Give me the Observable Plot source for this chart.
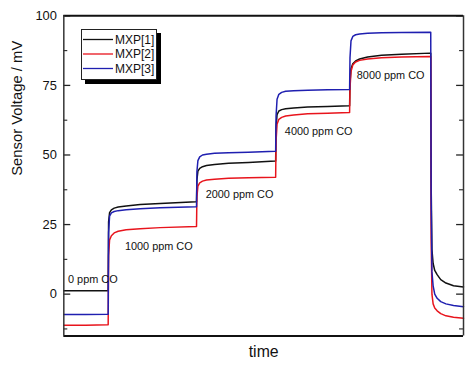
<!DOCTYPE html>
<html>
<head>
<meta charset="utf-8">
<script src="https://cdn.jsdelivr.net/npm/d3@7"></script>
<script src="https://cdn.jsdelivr.net/npm/@observablehq/plot@0.6"></script>
<style>
  html, body { margin: 0; padding: 0; background: #fff; overflow: hidden; }
  #wrap { position: relative; width: 465px; height: 367px; overflow: hidden; font-family: "Liberation Sans", Arial, sans-serif; }
  #legend { position: absolute; left: 81px; top: 29px; width: 74px; height: 49px; background: #fff; border: 1px solid #222; box-shadow: 4px 4px 0 #000; }
  #legend svg { position: absolute; left: 0; top: 0; }
</style>
</head>
<body>
<div id="wrap"><div id="chart"></div><div id="legend"></div></div>
<script>
// ---- data ----
const seriesNames = ["MXP[1]", "MXP[2]", "MXP[3]"];
const seriesColors = ["#111111", "#e8141c", "#1f1fb0"];

const time = [
  0, 5.5, 11.0,
  11.1, 11.2, 11.45, 11.9, 12.6, 13.6, 15.6, 19.1, 24.1, 33.1,
  33.2, 33.3, 33.55, 34.0, 34.7, 35.7, 37.7, 41.2, 46.2, 52.9,
  53.0, 53.1, 53.35, 53.8, 54.5, 55.5, 57.5, 61.0, 66.0, 71.4,
  71.5, 71.6, 71.85, 72.3, 73.0, 74.0, 76.0, 79.5, 84.5, 91.7,
  91.8, 91.9, 92.1, 92.4, 92.8, 93.4, 94.3, 95.6, 97.5, 100
];
const mxp1 = [
  1.2, 1.2, 1.2,
  1.2, 26, 29.3, 30.3, 30.9, 31.3, 31.7, 32.2, 32.6, 33.2,
  33.2, 41, 44.2, 45.2, 45.8, 46.2, 46.6, 47.0, 47.3, 47.8,
  47.8, 60, 64.5, 65.8, 66.3, 66.6, 66.9, 67.2, 67.4, 67.7,
  67.7, 76, 81, 82.8, 83.8, 84.5, 85.2, 85.8, 86.2, 86.6,
  86.6, 40, 16, 11, 8.5, 7, 5.2, 4, 3, 2.6
];
const mxp2 = [
  -11.2, -11.2, -11.0,
  -11.0, 14, 19.5, 21, 22, 22.6, 23.1, 23.5, 23.9, 24.3,
  24.3, 35, 38.8, 40, 40.6, 41, 41.3, 41.6, 41.8, 42.0,
  42.0, 55, 61, 62.8, 63.5, 64, 64.4, 64.8, 65.0, 65.3,
  65.3, 74, 80, 82.3, 83.4, 84, 84.5, 84.9, 85.2, 85.4,
  85.4, 20, 0, -3.5, -5, -6, -7, -7.8, -8.3, -8.7
];
const mxp3 = [
  -7.3, -7.3, -7.2,
  -7.2, 22, 28, 29.2, 29.7, 30.0, 30.3, 30.7, 31.0, 31.4,
  31.4, 44, 48, 49.3, 50, 50.3, 50.6, 50.8, 51.0, 51.3,
  51.3, 64, 70, 71.8, 72.5, 72.9, 73.1, 73.3, 73.4, 73.5,
  73.5, 85, 91, 92.6, 93.2, 93.5, 93.7, 93.9, 94.0, 94.1,
  94.1, 35, 8, 3, 0, -1.5, -2.7, -3.5, -4.1, -4.5
];

const yMajorTicks = [0, 25, 50, 75, 100];
const yMinorTicks = [-12.5, 12.5, 37.5, 62.5, 87.5];

const stepLabels = ["0 ppm CO", "1000 ppm CO", "2000 ppm CO", "4000 ppm CO", "8000 ppm CO"];
const stepLabelT = [1.06, 15.3, 35.5, 55.3, 73.3];
const stepLabelV = [5.2, 17.2, 35.7, 58.3, 78.5];

const xLabel = "time";
const yLabel = "Sensor Voltage / mV";

// ---- build table ----
const allSeries = [mxp1, mxp2, mxp3];
const rows = [];
allSeries.forEach((vals, i) => {
  vals.forEach((v, j) => rows.push({series: seriesNames[i], t: time[j], v}));
});
const labels = stepLabels.map((s, i) => ({s, t: stepLabelT[i], v: stepLabelV[i]}));

const W = 470, H = 367, mL = 64, mR = 2, mT = 15.5, mB = 28;
const fw = W - mL - mR;

const chart = Plot.plot({
  width: W, height: H,
  marginLeft: mL, marginRight: mR, marginTop: mT, marginBottom: mB,
  style: {fontFamily: "Liberation Sans, Arial, sans-serif", background: "#fff", color: "#111"},
  x: {domain: [0, 100], axis: null},
  y: {domain: [-15, 100], axis: null},
  color: {domain: seriesNames, range: seriesColors},
  marks: [
    Plot.axisY({ticks: yMajorTicks, tickSize: 0, tickPadding: 7, fontSize: 13, label: null}),
    // inward ticks, left
    Plot.tickY(yMajorTicks, {y: d => d, insetRight: fw - 7, stroke: "#222", strokeWidth: 1.3}),
    Plot.tickY(yMinorTicks, {y: d => d, insetRight: fw - 4, stroke: "#222", strokeWidth: 1.1}),
    // inward ticks, right
    Plot.tickY(yMajorTicks, {y: d => d, insetLeft: fw - 7, stroke: "#222", strokeWidth: 1.3}),
    Plot.tickY(yMinorTicks, {y: d => d, insetLeft: fw - 4, stroke: "#222", strokeWidth: 1.1}),
    Plot.line(rows, {x: "t", y: "v", z: "series", stroke: "series", strokeWidth: 1.5}),
    Plot.text(labels, {x: "t", y: "v", text: "s", textAnchor: "start", fontSize: 11, fill: "#111"}),
    // frame
    Plot.ruleY([100], {stroke: "#111", strokeWidth: 2}),
    Plot.ruleY([-15], {stroke: "#111", strokeWidth: 2}),
    Plot.ruleX([0], {stroke: "#333", strokeWidth: 1.5}),
    Plot.ruleX([100], {stroke: "#333", strokeWidth: 1.5}),
    Plot.text([xLabel], {frameAnchor: "bottom", dy: 16, fontSize: 16, fill: "#111", lineAnchor: "middle"}),
    Plot.text([yLabel], {frameAnchor: "left", dx: -47, rotate: -90, fontSize: 15, fill: "#111", lineAnchor: "middle"})
  ]
});
document.getElementById("chart").appendChild(chart);

// legend (svg inside the box)
const lg = d3.select("#legend").append("svg").attr("width", 74).attr("height", 49);
seriesNames.forEach((n, i) => {
  const y = 9.5 + i * 14.5;
  lg.append("line").attr("x1", 1).attr("x2", 31).attr("y1", y).attr("y2", y)
    .attr("stroke", seriesColors[i]).attr("stroke-width", 1.3);
  lg.append("text").attr("x", 33).attr("y", y).attr("dy", "0.36em")
    .attr("font-size", 12).attr("fill", "#111")
    .attr("font-family", "Liberation Sans, Arial, sans-serif").text(n);
});
</script>
</body>
</html>
